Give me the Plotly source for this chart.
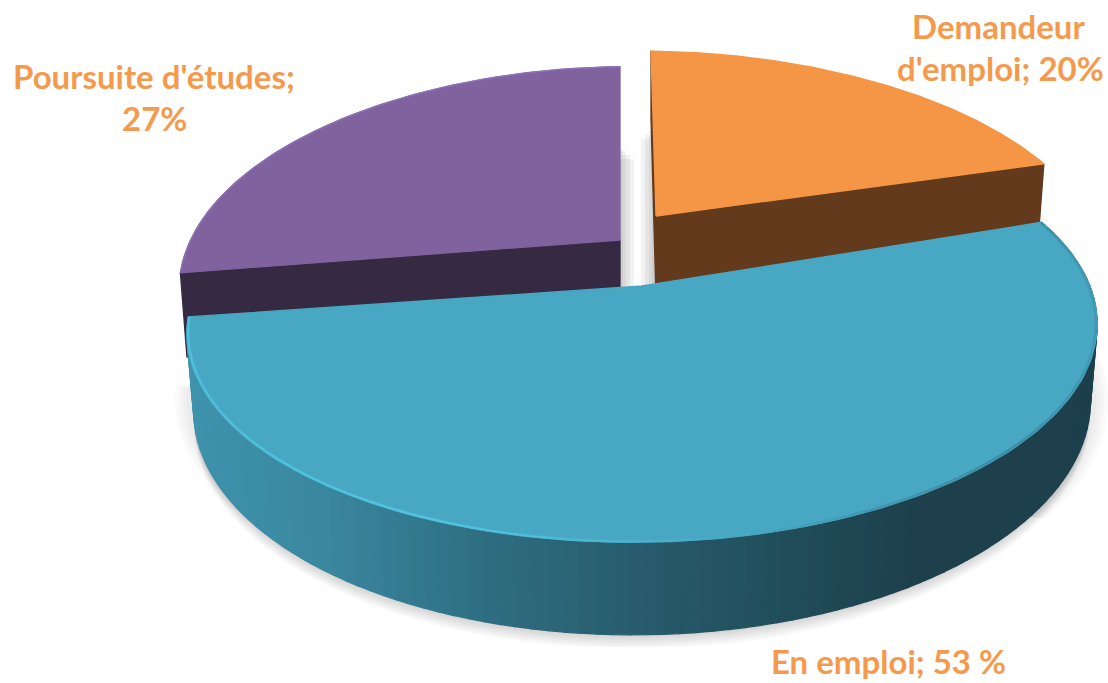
import math
import plotly.graph_objects as go

# Data
categories = ["Demandeur d'emploi", "En emploi", "Poursuite d'études"]
values = [20, 53, 27]
label_lines = [["Demandeur", "d'emploi; 20%"], ["En emploi; 53 %"], ["Poursuite d'études;", "27%"]]
top_colors = ["#F49645", "#48A7C3", "#7F629E"]
wall_colors = ["#633A1C", "#3F93AD", "#352A42"]
label_color = "#F59A4C"

W, H = 1108, 683
K = 0.2
# per-slice projection: apex x, apex y, x scale, y scale, depth, lean, tilt
proj = [
    dict(ax=656, ay=216, f=435, g=198, h=82, c=-6, tilt=6),
    dict(ax=642, ay=286, f=446, g=205, h=74, c=0, tilt=-4.5),
    dict(ax=620, ay=240, f=432, g=208, h=82, c=0, tilt=-6),
]
label_pos = [[(998, 26), (1000, 68)], [(888, 661)], [(154, 76), (154, 118)]]


def pt(p, deg, r=1.0, z=0.0):
    t = math.radians(deg)
    X, Y = r * math.sin(t), r * math.cos(t)
    s = 1 / (1 + K * Y)
    zoom = 1 - 0.015 * z
    return (p["ax"] + (p["f"] * X * zoom + p["c"] * Y) * s,
            p["ay"] + (p["tilt"] * X - p["g"] * Y) * s + p["h"] * z * s)


def arc(p, a0, a1, r=1.0, z=0.0, n=160):
    return [pt(p, a0 + (a1 - a0) * i / n, r, z) for i in range(n + 1)]


def hex2rgb(c):
    return tuple(int(c[i:i + 2], 16) for i in (1, 3, 5))


def ramp(x, stops):
    if x <= stops[0][0]:
        return stops[0][1]
    for (x0, c0), (x1, c1) in zip(stops, stops[1:]):
        if x <= x1:
            u = (x - x0) / (x1 - x0)
            a, b = hex2rgb(c0), hex2rgb(c1)
            return "rgb(%d,%d,%d)" % tuple(a[i] + (b[i] - a[i]) * u for i in range(3))
    return stops[-1][1]


fig = go.Figure()


def poly(points, color, opacity=1.0, line=True):
    fig.add_trace(go.Scatter(
        x=[q[0] for q in points] + [points[0][0]],
        y=[q[1] for q in points] + [points[0][1]],
        mode="lines", fill="toself", fillcolor=color, opacity=opacity,
        line=dict(color=color if line else "rgba(0,0,0,0)", width=1.3 if line else 0),
        hoverinfo="skip", showlegend=False))


def polyline(points, color, width):
    fig.add_trace(go.Scatter(
        x=[q[0] for q in points], y=[q[1] for q in points], mode="lines",
        line=dict(color=color, width=width), hoverinfo="skip", showlegend=False))


# slice angles
total = sum(values)
starts, a = [], 0.0
for v in values:
    starts.append((a, a + 360.0 * v / total))
    a += 360.0 * v / total

# soft shadow under the big slice
pb = proj[1]
a0, a1 = starts[1]
for d in (14, 12, 10, 8, 6, 4, 2):
    pts = [(x, min(y + d, 647)) for x, y in arc(pb, a0 + 10, a1 - 2, z=1.0)]
    poly(pts, "#000000", 0.022, line=False)
for d in (18, 14, 10, 6):
    pts = [(x - d, y) for x, y in arc(pb, 215, 262, z=0.85)] + [(640, 500)]
    poly(pts, "#000000", 0.018, line=False)
    pts = [(x + d, y) for x, y in arc(pb, 80, 130, z=1.0)] + [(900, 500)]
    poly(pts, "#000000", 0.018, line=False)

# purple
p = proj[2]
a0, a1 = starts[2]
for d in (14, 10, 6, 3):
    poly([(620, 145 + d), (620 + d, 145 + d), (620 + d, 290), (620, 290)], "#000000", 0.05, line=False)
for d in (14, 10, 6, 3):
    poly([(655 - d, 125 + d), (655, 125 + d), (655, 290), (655 - d, 290)], "#000000", 0.05, line=False)
poly([pt(p, a0), pt(p, a0, z=1.0), pt(p, 0, 0, z=1.0), pt(p, 0, 0)], wall_colors[2])
poly([pt(p, 0, 0)] + arc(p, a0, a1), top_colors[2])
polyline(arc(p, a0, a1), "#8E70B4", 1.5)

# orange
p = proj[0]
a0, a1 = starts[0]
poly([pt(p, a1), pt(p, a1, z=1.0), pt(p, 0, 0, z=1.0), pt(p, 0, 0)], wall_colors[0])
poly([pt(p, a0), pt(p, a0, z=1.0), pt(p, 0, 0, z=1.0), pt(p, 0, 0)], wall_colors[0])
poly([pt(p, 0, 0)] + arc(p, a0, a1), top_colors[0])

# blue wall with left-to-right gradient
p = proj[1]
a0, a1 = starts[1]
wall_stops = [(193, "#3F93AD"), (330, "#3A879F"), (480, "#2F6F83"), (640, "#285C6C"),
              (800, "#214C59"), (920, "#1D404C"), (1100, "#1D414D")]
n = 110
for i in range(n):
    b0 = a0 + (a1 - a0) * i / n
    b1 = a0 + (a1 - a0) * (i + 1) / n
    q = [pt(p, b0), pt(p, b1), pt(p, b1, z=1.0), pt(p, b0, z=1.0)]
    poly(q, ramp(sum(v[0] for v in q) / 4, wall_stops))
# blue top and rim
poly([pt(p, 0, 0)] + arc(p, a0, a1), top_colors[1])
rim_stops = [(190, "#50BFDC"), (450, "#52C4E2"), (640, "#4DB2CE"), (760, "#48A7C3"),
             (880, "#4298B2"), (1000, "#3E8CA4"), (1100, "#429AB4")]
m = 150
for i in range(m):
    b0 = a0 + (a1 - a0) * i / m
    b1 = a0 + (a1 - a0) * (i + 1) / m
    seg = [pt(p, b0, 0.997), pt(p, b1, 0.997)]
    polyline(seg, ramp(seg[0][0], rim_stops), 2.5)

annotations = []
for lines, positions in zip(label_lines, label_pos):
    for text, (x, y) in zip(lines, positions):
        annotations.append(dict(x=x, y=y, text=text, xref="x", yref="y", showarrow=False,
                                xanchor="center", yanchor="middle",
                                font=dict(family="Lato", size=33, color=label_color, weight="bold")))

fig.update_layout(
    width=W, height=H, margin=dict(l=0, r=0, t=0, b=0),
    paper_bgcolor="white", plot_bgcolor="white", showlegend=False,
    xaxis=dict(range=[0, W], visible=False, fixedrange=True),
    yaxis=dict(range=[H, 0], visible=False, fixedrange=True),
    annotations=annotations,
)
fig.write_html("out.html", config={"displayModeBar": False},
               post_script="document.documentElement.style.overflow='hidden';document.body.style.margin='0';")
